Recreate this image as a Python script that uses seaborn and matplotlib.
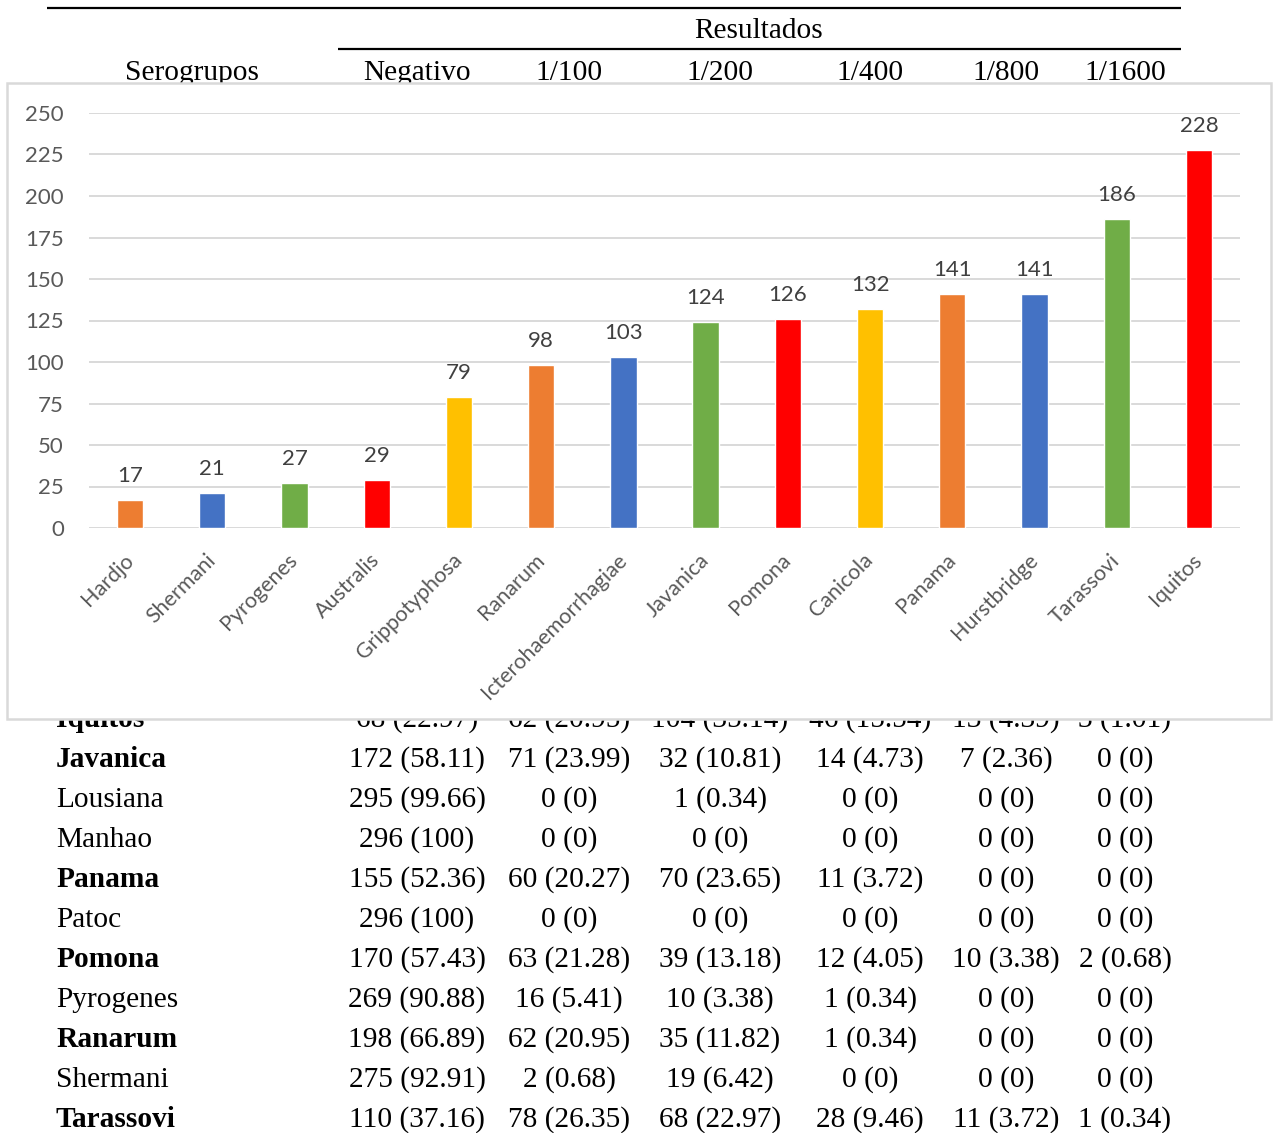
import matplotlib
matplotlib.use("Agg")
import matplotlib.pyplot as plt
import seaborn as sns
import pandas as pd
from matplotlib.patches import Rectangle

# Positive sera per serogroup (bar chart)
serogroups = ["Hardjo", "Shermani", "Pyrogenes", "Australis", "Grippotyphosa",
              "Ranarum", "Icterohaemorrhagiae", "Javanica", "Pomona", "Canicola",
              "Panama", "Hurstbridge", "Tarassovi", "Iquitos"]
positives = [17, 21, 27, 29, 79, 98, 103, 124, 126, 132, 141, 141, 186, 228]
bar_colors = ["#ED7D31", "#4472C4", "#70AD47", "#FF0000", "#FFC000",
              "#ED7D31", "#4472C4", "#70AD47", "#FF0000", "#FFC000",
              "#ED7D31", "#4472C4", "#70AD47", "#FF0000"]

# Titre table (counts out of 296 sera)
titer_headers = ["Negativo", "1/100", "1/200", "1/400", "1/800", "1/1600"]
table_groups = ["Iquitos", "Javanica", "Lousiana", "Manhao", "Panama", "Patoc",
                "Pomona", "Pyrogenes", "Ranarum", "Shermani", "Tarassovi"]
bold_groups = ["Iquitos", "Javanica", "Panama", "Pomona", "Ranarum", "Tarassovi"]
neg_counts = [68, 172, 295, 296, 155, 296, 170, 269, 198, 275, 110]
t100_counts = [62, 71, 0, 0, 60, 0, 63, 16, 62, 2, 78]
t200_counts = [104, 32, 1, 0, 70, 0, 39, 10, 35, 19, 68]
t400_counts = [46, 14, 0, 0, 11, 0, 12, 1, 1, 0, 28]
t800_counts = [13, 7, 0, 0, 0, 0, 10, 0, 0, 0, 11]
t1600_counts = [3, 0, 0, 0, 0, 0, 2, 0, 0, 0, 1]
total_sera = 296

W, H = 1275, 1133
fig = plt.figure(figsize=(W / 100, H / 100), dpi=100, facecolor="white")

# ---- background table drawn in pixel coordinates ----
bg = fig.add_axes([0, 0, 1, 1])
bg.set_xlim(0, W)
bg.set_ylim(H, 0)
bg.axis("off")

serif = "Liberation Serif"
fs = 21.2
bg.hlines(8, 47, 1181, color="black", lw=1.6)
bg.hlines(49, 338, 1181, color="black", lw=1.6)
bg.text(759, 38, "Resultados", ha="center", va="baseline", family=serif, size=fs)
bg.text(192, 80, "Serogrupos", ha="center", va="baseline", family=serif, size=fs)
col_x = [417, 569, 720, 870, 1006, 1125]
for x, h in zip(col_x, titer_headers):
    bg.text(x, 80, h, ha="center", va="baseline", family=serif, size=fs)


def cell(count):
    pct = f"{count / total_sera * 100:.2f}".rstrip("0").rstrip(".")
    return f"{count} ({pct})"


columns = [neg_counts, t100_counts, t200_counts, t400_counts, t800_counts, t1600_counts]
for i, name in enumerate(table_groups):
    y = 727 + 40 * i
    bg.text(56, y, name, ha="left", va="baseline", family=serif, size=fs,
            weight="bold" if name in bold_groups else "normal")
    for x, col in zip(col_x, columns):
        bg.text(x, y, cell(col[i]), ha="center", va="baseline", family=serif, size=fs)

# white chart area laid over the table
bg.add_patch(Rectangle((7, 83), 1264, 636, facecolor="white",
                       edgecolor="#D9D9D9", lw=1.8, zorder=10))

# ---- bar chart ----
sns.set_style("white")
plt.rcParams["font.family"] = ["Lato", "DejaVu Sans"]

left, right, top, bottom = 89, 1240, 113, 528
ax = fig.add_axes([left / W, 1 - bottom / H, (right - left) / W, (bottom - top) / H])
ax.set_facecolor("none")
ax.set_zorder(20)

df = pd.DataFrame({"Serogrupo": serogroups, "Positivos": positives})
sns.barplot(data=df, x="Serogrupo", y="Positivos", hue="Serogrupo",
            palette=bar_colors, legend=False, width=0.32, saturation=1, ax=ax)

for container in ax.containers:
    ax.bar_label(container, padding=10, fontsize=16, color="#404040")

ax.set_xlim(-0.5, len(serogroups) - 0.5)
ax.set_ylim(0, 250)
ax.set_yticks(range(0, 251, 25))
ax.set_axisbelow(True)
ax.yaxis.grid(True, color="#D9D9D9", lw=1.4)
ax.xaxis.grid(False)
for s in ax.spines.values():
    s.set_visible(False)
ax.set_xlabel("")
ax.set_ylabel("")
ax.set_xticks(range(len(serogroups)))
ax.set_xticklabels(serogroups, rotation=45, ha="right", va="center",
                   rotation_mode="anchor")
ax.tick_params(axis="x", length=0, pad=21, labelsize=15.5, labelcolor="#595959")
ax.tick_params(axis="y", length=0, pad=18, labelsize=16, labelcolor="#595959")

fig.savefig("out.png", dpi=100, facecolor="white")
